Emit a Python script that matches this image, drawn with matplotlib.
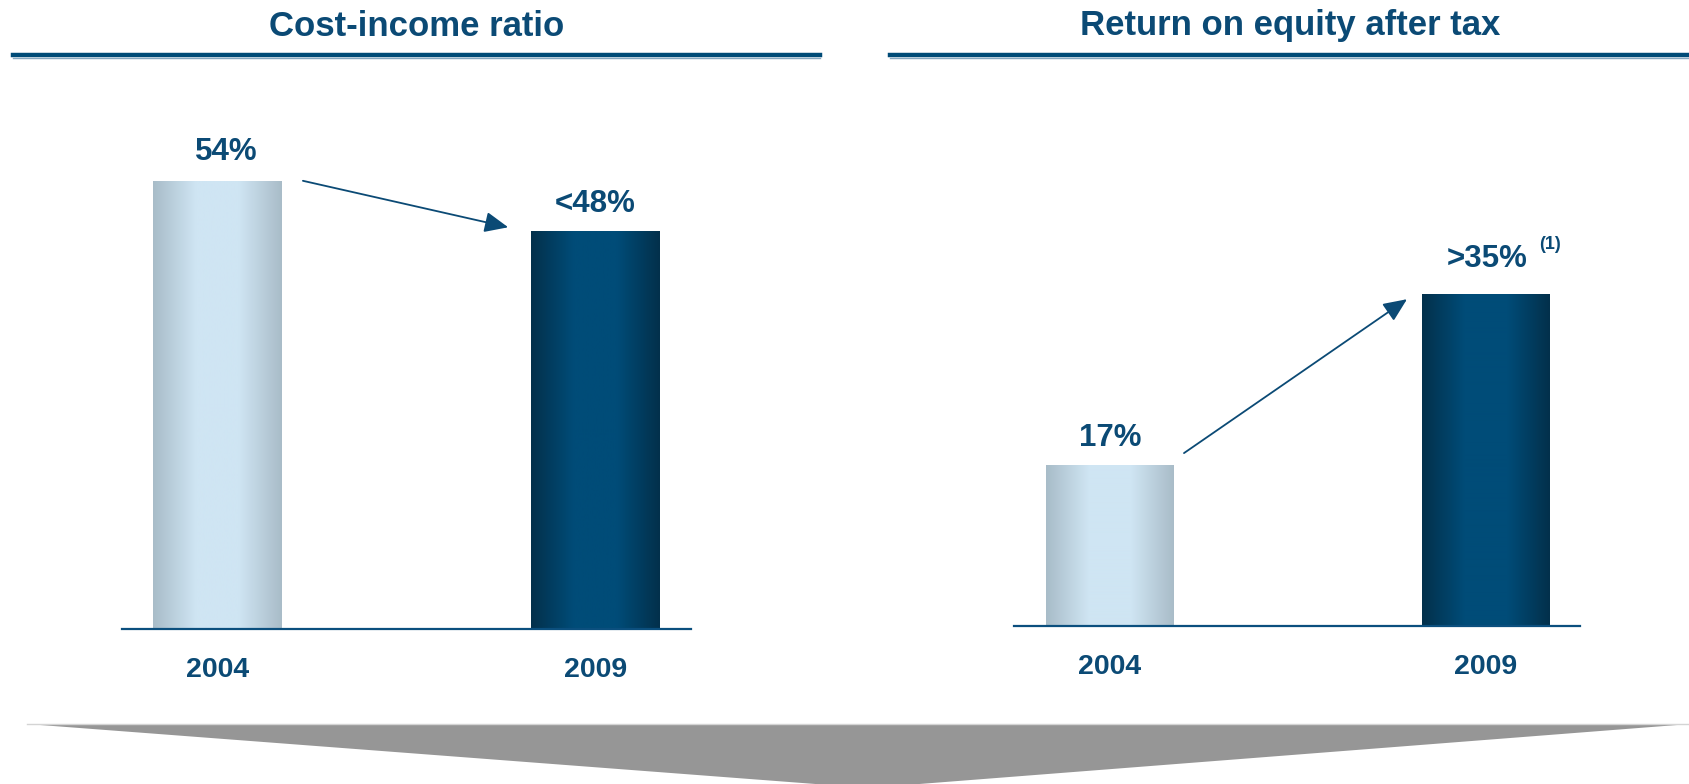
import matplotlib.pyplot as plt
import numpy as np
from matplotlib.colors import LinearSegmentedColormap
from matplotlib.patches import Polygon


#%% Data

years = ['2004', '2009']

cost_income = [54, 48]
cost_income_labels = ['54%', '<48%']

roe = [17, 35]
roe_labels = ['17%', '>35%']

titles = ['Cost-income ratio', 'Return on equity after tax']


#%% Style

W, H = 1690, 784
BLUE = '#0b4a75'
plt.rcParams['font.family'] = ['Liberation Sans', 'DejaVu Sans']
plt.rcParams['font.weight'] = 'bold'

light_cmap = LinearSegmentedColormap.from_list(
    'light', ['#a8bcc8', '#cfe5f3', '#cfe5f3', '#a9bcc8'])
dark_cmap = LinearSegmentedColormap.from_list(
    'dark', ['#03304b', '#004c78', '#004c78', '#03304b'])


def px_rect(x0, y0, x1, y1):
    # pixel box (top-left origin) -> figure fraction rect
    return [x0 / W, 1 - y1 / H, (x1 - x0) / W, (y1 - y0) / H]


def gradient_bars(ax, values, cmaps, width):
    bars = ax.bar(range(len(values)), values, width=width, color='none',
                  edgecolor='none', zorder=2)
    grad = np.linspace(0, 1, 256).reshape(1, -1)
    for bar, cmap in zip(bars, cmaps):
        x, y = bar.get_x(), bar.get_y()
        im = ax.imshow(grad, cmap=cmap, aspect='auto', zorder=2,
                       extent=[x, x + bar.get_width(), y, y + bar.get_height()])
        im.set_clip_path(bar)
    return bars


def panel(ax, values, labels, ylim, xlim, arrow_from, arrow_to, label_off):
    gradient_bars(ax, values, [light_cmap, dark_cmap], 0.34)
    ax.set_xlim(*xlim)
    ax.set_ylim(*ylim)
    for s in ['top', 'right', 'left']:
        ax.spines[s].set_visible(False)
    ax.spines['bottom'].set_color('#0b4f7e')
    ax.spines['bottom'].set_linewidth(1.6)
    ax.set_yticks([])
    ax.set_xticks(range(len(years)), years)
    ax.tick_params(axis='x', length=0, pad=20, labelsize=20.5,
                   labelcolor=BLUE)
    for lbl in ax.get_xticklabels():
        lbl.set_fontweight('bold')
    for i, (v, t, off) in enumerate(zip(values, labels, label_off)):
        ax.annotate(t, (i, v), xytext=off, textcoords='offset points',
                    ha='center', va='baseline', fontsize=22.5,
                    fontweight='bold', color=BLUE)
    ax.annotate('', xy=arrow_to, xytext=arrow_from,
                arrowprops=dict(arrowstyle='-|>,head_length=0.8,head_width=0.35',
                                color=BLUE, lw=1.3, mutation_scale=18,
                                shrinkA=0, shrinkB=0))


fig = plt.figure(figsize=(W / 100, H / 100), dpi=100)

# left panel: cost-income ratio
ax1 = fig.add_axes(px_rect(122, 629 - 498, 691, 629))
panel(ax1, cost_income, cost_income_labels, (0, 60), (-0.2526, 1.2526),
      (0.226, cost_income[0]), (0.769, cost_income[1] + 0.4),
      [(6.5, 15), (0, 13.5)])

# right panel: return on equity
ax2 = fig.add_axes(px_rect(1014, 626 - 427.5, 1580, 626))
panel(ax2, roe, roe_labels, (0, 45), (-0.255, 1.25),
      (0.197, roe[0] + 1.2), (0.79, roe[1] - 0.6),
      [(0, 13), (1, 19)])
ax2.annotate('(1)', (1, roe[1]), xytext=(46, 32), textcoords='offset points',
             ha='center', va='baseline', fontsize=13, fontweight='bold',
             color=BLUE)

# section titles and rules
for title, (x0, x1) in zip(titles, [(13, 820), (890, 1690)]):
    fig.text((x0 + x1) / 2 / W, 1 - 26 / H, title, ha='center',
             va='center', fontsize=25, fontweight='bold', color=BLUE)
    fig.add_artist(plt.Line2D([x0 / W, x1 / W], [1 - 54.5 / H] * 2,
                              color='#004b77', lw=3.2))
    fig.add_artist(plt.Line2D([x0 / W, x1 / W], [1 - 58 / H] * 2,
                              color='#86a8c0', lw=1.0))

# gray chevron at the bottom
pts = np.array([[27, 724], [1690, 724], [868, 788]], dtype=float)
pts[:, 0] /= W
pts[:, 1] = 1 - pts[:, 1] / H
fig.add_artist(Polygon(pts, closed=True, facecolor='#969696',
                       edgecolor='none', transform=fig.transFigure))
fig.add_artist(plt.Line2D([27 / W, 1], [1 - 724 / H] * 2,
                          color='#d4d4d4', lw=1.0))

fig.savefig('out.png', dpi=100, facecolor='white')
